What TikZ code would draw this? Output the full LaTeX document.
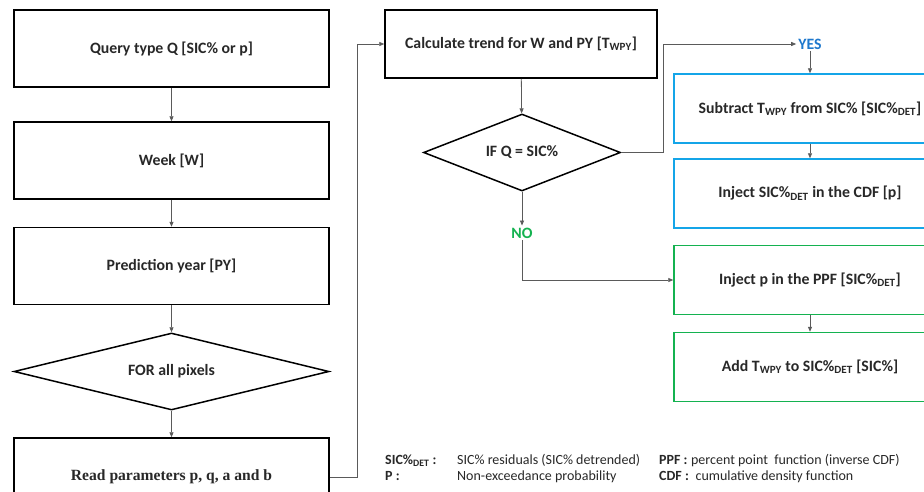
\documentclass[tikz,border=0pt]{standalone}
\usepackage{fontspec}
\setmainfont{Carlito}
\newfontfamily\paramfont{Liberation Serif}
\usetikzlibrary{shapes.geometric,arrows.meta}
\definecolor{inkgray}{RGB}{40,40,40}
\definecolor{linegray}{RGB}{90,90,90}
\definecolor{yesblue}{RGB}{30,120,205}
\definecolor{boxblue}{RGB}{20,165,232}
\definecolor{boxgreen}{RGB}{20,178,80}
\newcommand{\lowtxt}[1]{\textsubscript{#1}}
\begin{document}
\begin{tikzpicture}[x=1pt,y=-1pt,
  boxtext/.style={font=\fontsize{15.8}{18}\selectfont\bfseries, text=inkgray},
  stepbox/.style={draw=black, line width=1.5pt, boxtext, inner sep=0pt},
  leftbox/.style={stepbox, minimum width=315pt, minimum height=77pt},
  rightbox/.style={stepbox, minimum width=272pt, minimum height=69pt},
  bluebox/.style={rightbox, draw=boxblue},
  greenbox/.style={rightbox, draw=boxgreen},
  choice/.style={draw=black, line width=1.5pt, shape=diamond, boxtext, inner sep=0pt},
  conn/.style={draw=linegray, line width=0.8pt},
  flow/.style={conn, -{Triangle[length=5pt,width=4pt]}},
  legbold/.style={anchor=base west, inner sep=0pt, font=\fontsize{14}{16}\selectfont\bfseries, text=inkgray},
  legtext/.style={anchor=base west, inner sep=0pt, font=\fontsize{14}{16}\selectfont, text=inkgray}
]
\useasboundingbox (0,0) rectangle (924,491);
\clip (0,0) rectangle (924,491);
\fill[white] (0,0) rectangle (924,491);

% left column: inputs and pixel loop
\node[leftbox] (query) at (171.5,48.5) {Query type Q [SIC\% or p]};
\node[leftbox] (week) at (171.5,160.5) {Week [W]};
\node[leftbox] (year) at (171.5,266) {Prediction year [PY]};
\node[choice, minimum width=315pt, minimum height=77pt, aspect=4.1] (pixels) at (171.5,371.5) {FOR all pixels};
\node[leftbox, font=\fontsize{15.6}{18}\paramfont\bfseries] (params) at (171.5,476.5) {Read parameters p, q, a and b};

% middle column: trend and branch
\node[stepbox, minimum width=272pt, minimum height=68pt] (trend) at (521,44) {Calculate trend for W and PY [T\lowtxt{WPY}]};
\node[choice, minimum width=197pt, minimum height=77pt, aspect=2.56] (ifq) at (522,152.5) {IF Q = SIC\%};
\node[boxtext, text=yesblue, inner sep=2pt] (yes) at (810,44) {YES};
\node[boxtext, text=boxgreen, inner sep=2pt] (no) at (522,233) {NO};

% right column: the two branches
\node[bluebox] (subtract) at (810,108.5) {Subtract T\lowtxt{WPY} from SIC\% [SIC\%\lowtxt{DET}]};
\node[bluebox] (cdf) at (810,193.5) {Inject SIC\%\lowtxt{DET} in the CDF [p]};
\node[greenbox] (ppf) at (810,280) {Inject p in the PPF [SIC\%\lowtxt{DET}]};
\node[greenbox] (addt) at (810,367) {Add T\lowtxt{WPY} to SIC\%\lowtxt{DET} [SIC\%]};

% connectors
\draw[flow] (query) -- (week);
\draw[flow] (week) -- (year);
\draw[flow] (year) -- (pixels);
\draw[flow] (pixels) -- (params);
\draw[flow] (params.east |- 0,477) -- (357,477) |- (trend.west);
\draw[flow] (trend) -- (ifq);
\draw[flow] (ifq.east) -- (663,152.5) |- (yes.west);
\draw[flow] (yes) -- (subtract);
\draw[flow] (subtract) -- (cdf);
\draw[flow] (ifq.south) -- (no.north);
\draw[flow] (no.south) -- (522,280) -- (ppf.west);
\draw[flow] (ppf) -- (addt);

% legend
\node[legbold] (k1) at (385,464) {SIC\%\lowtxt{DET} :};
\node[legtext] (d1) at (457,464) {SIC\% residuals (SIC\% detrended)};
\node[legbold] (k2) at (385,480.5) {P :};
\node[legtext] (d2) at (457,480.5) {Non-exceedance probability};
\node[legbold] (k3) at (659,464) {PPF :};
\node[legtext] (d3) at (k3.base east) {\ percent point\ \ function (inverse CDF)};
\node[legbold] (k4) at (659,480.5) {CDF :};
\node[legtext] (d4) at (k4.base east) {\ \ cumulative density function};
\end{tikzpicture}
\end{document}
